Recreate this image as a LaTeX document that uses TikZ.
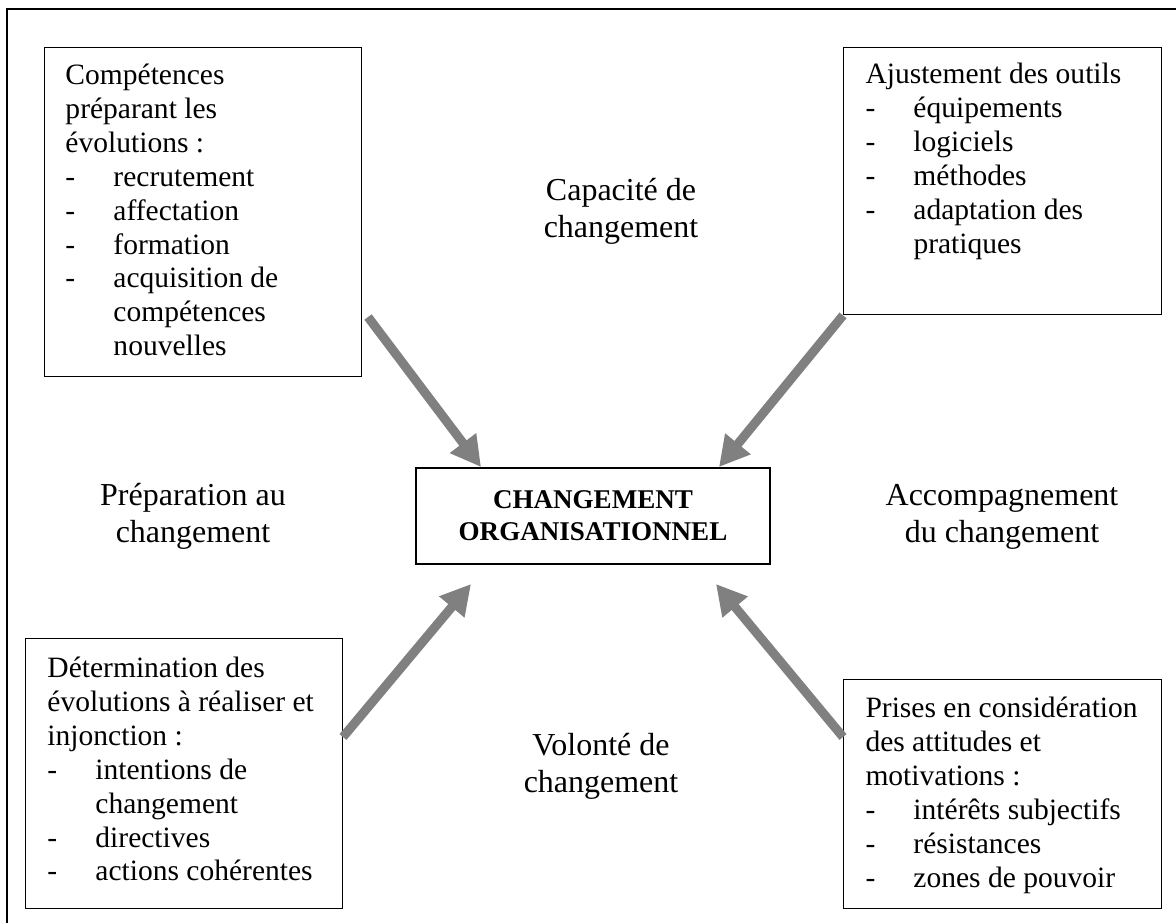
\documentclass[tikz,border=0pt]{standalone}
\usepackage{fontspec}
\setmainfont{Liberation Serif}
\usepackage{tikz}
\usetikzlibrary{calc}
\usetikzlibrary{arrows.meta}

\newlength{\pxunit}
\setlength{\pxunit}{0.4065pt}
\newcommand{\dashitem}[1]{\makebox[48\pxunit][l]{-}#1}
\newcommand{\dashcont}[1]{\hspace*{48\pxunit}#1}

\begin{document}
\begin{tikzpicture}[x=0.4065pt,y=-0.4065pt,
    box/.style={draw,line width=0.55pt,inner sep=0pt,anchor=north west},
    listtext/.style={anchor=north west,inner sep=0pt,align=left,font=\fontsize{12}{13.8}\selectfont},
    sidelabel/.style={anchor=north,inner sep=0pt,align=center,font=\fontsize{13}{15}\selectfont},
    bigarrow/.style={draw=gray,line width=3.7pt,-{Triangle[length=12.2pt,width=12.6pt]}}]
    \useasboundingbox (0,0) rectangle (1176,922);
    \begin{scope}
      \clip (0,0) rectangle (1176,922);
      \draw[line width=0.8pt] (7,9) rectangle (1200,950);
    \end{scope}

    % the four boxes
    \node[box,minimum width=317\pxunit,minimum height=329\pxunit] (tl) at (44,47) {};
    \node[box,minimum width=318\pxunit,minimum height=267\pxunit] (tr) at (843,47) {};
    \node[box,minimum width=317\pxunit,minimum height=270\pxunit] (bl) at (25,638) {};
    \node[box,minimum width=318\pxunit,minimum height=229\pxunit] (br) at (843,679) {};

    \node[listtext] (tltext) at (65,60) {\strut Compétences\\préparant les\\évolutions :\\
      \dashitem{recrutement}\\\dashitem{affectation}\\\dashitem{formation}\\
      \dashitem{acquisition de}\\\dashcont{compétences}\\\dashcont{nouvelles}};
    \node[listtext] (trtext) at (865,59) {\strut Ajustement des outils\\
      \dashitem{équipements}\\\dashitem{logiciels}\\\dashitem{méthodes}\\
      \dashitem{adaptation des}\\\dashcont{pratiques}};
    \node[listtext] (bltext) at (47,653) {\strut Détermination des\\évolutions à réaliser et\\injonction :\\
      \dashitem{intentions de}\\\dashcont{changement}\\\dashitem{directives}\\\dashitem{actions cohérentes}};
    \node[listtext] (brtext) at (865,693) {\strut Prises en considération\\des attitudes et\\motivations :\\
      \dashitem{intérêts subjectifs}\\\dashitem{résistances}\\\dashitem{zones de pouvoir}};

    % centre
    \node[draw,line width=0.8pt,inner sep=0pt,align=center,minimum width=354\pxunit,minimum height=96\pxunit,
      font=\fontsize{11}{13}\selectfont\bfseries] (chg) at (593,516) {CHANGEMENT\\ORGANISATIONNEL};

    \node[sidelabel] (capa) at (621,174) {\strut Capacité de\\changement};
    \node[sidelabel] (prep) at (193,479) {\strut Préparation au\\changement};
    \node[sidelabel] (acco) at (1002,479) {\strut Accompagnement\\du changement};
    \node[sidelabel] (volo) at (601,729) {\strut Volonté de\\changement};

    \coordinate (tlstart) at (368,317);
    \coordinate (blstart) at (343,737);
    \coordinate (brstart) at (843,737);
    \draw[bigarrow] (tlstart) -- ($(chg.north west)+(66,0)$);
    \draw[bigarrow] (tr.south west) -- ($(chg.north east)+(-52,0)$);
    \draw[bigarrow] (blstart) -- ($(chg.south west)+(56,19)$);
    \draw[bigarrow] (brstart) -- ($(chg.south east)+(-55,19)$);
\end{tikzpicture}
\end{document}
